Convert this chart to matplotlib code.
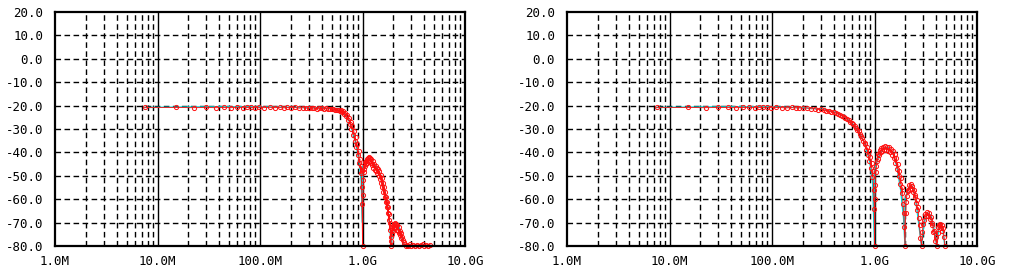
import matplotlib
matplotlib.use("Agg")
import matplotlib.pyplot as plt

# ---------------- data (frequency in MHz, level in dB) ----------------
left_f = [7.5, 15, 22.5, 30, 37.5, 45, 52.5, 60, 67.5, 75, 82.5, 90, 97.5,
          110, 125, 140, 155, 170, 185, 200, 220, 240, 260, 280, 300, 320, 340,
          360, 380, 400, 420, 440, 460, 480, 500, 520, 540, 560, 580, 600, 615,
          630, 645, 660, 675, 690, 705, 720, 735, 750, 765, 780, 795, 810, 825,
          840, 855, 870, 885, 900, 915, 930, 945, 960, 970, 980, 990, 1000,
          1010, 1020, 1030, 1040, 1050, 1060, 1070, 1085, 1100, 1115, 1130,
          1145, 1160, 1175, 1190, 1205, 1220, 1240, 1260, 1280, 1300, 1320,
          1340, 1360, 1380, 1400, 1420, 1440, 1460, 1480, 1500, 1520, 1540,
          1560, 1580, 1600, 1620, 1640, 1660, 1680, 1700, 1720, 1740, 1760,
          1780, 1800, 1820, 1840, 1860, 1880, 1895, 1910, 1930, 1950, 1970,
          1990, 2010, 2040, 2070, 2100, 2130, 2160, 2190, 2220, 2250, 2280,
          2310, 2340, 2370, 2400, 2440, 2480, 2520, 2560, 2640, 2720, 2800,
          2900, 3000, 3100, 3250, 3400, 3550, 3700, 3850, 4000, 4200, 4400,
          4600]
left_db = [-20.8, -20.8, -20.9, -20.8, -20.9, -20.8, -20.9, -20.8, -20.9, -20.8,
           -20.8, -20.9, -20.8, -20.9, -20.7, -20.9, -20.8, -21.0, -20.8, -20.9,
           -20.8, -21.1, -20.9, -21.0, -21.2, -20.9, -21.1, -21.3, -21.0, -21.2,
           -21.4, -21.1, -21.5, -21.3, -21.6, -21.4, -21.8, -22.0, -21.7, -22.3,
           -21.9, -22.8, -22.4, -23.6, -23.0, -24.6, -24.0, -26.0, -25.2, -27.8,
           -26.8, -30.0, -28.8, -32.4, -31.0, -35.0, -33.6, -37.8, -36.2, -41.0,
           -39.4, -44.5, -42.8, -49.0, -46.0, -55.0, -62.0, -80.0, -58.0, -52.0,
           -47.0, -48.5, -44.0, -46.0, -43.5, -45.0, -42.8, -44.5, -42.3, -44.0,
           -42.0, -43.8, -42.4, -44.5, -43.0, -45.5, -43.8, -46.5, -44.8, -47.5,
           -45.8, -48.0, -46.5, -49.0, -47.0, -50.0, -48.0, -51.5, -49.5, -53.0,
           -51.0, -55.0, -53.0, -57.0, -55.0, -59.0, -57.0, -61.0, -59.0, -63.5,
           -61.0, -66.0, -63.5, -69.0, -66.5, -73.0, -70.0, -78.0, -80.0, -76.0,
           -73.0, -75.0, -71.5, -73.5, -70.5, -72.5, -70.0, -72.0, -70.8, -73.0,
           -71.0, -73.5, -72.0, -74.5, -73.5, -75.5, -74.5, -76.5, -76.0, -77.5,
           -78.5, -79.0, -80.0, -79.5, -80.0, -79.3, -80.0, -79.5, -79.8, -79.4,
           -80.0, -79.6, -79.2, -79.8, -79.5, -79.8, -79.6]

left_ref_f = [7.5, 20, 50, 100, 200, 400, 550, 650, 750, 850, 920, 970, 1000,
              1000, 1030, 1100, 1200, 1300, 1450, 1600, 1750, 1850, 1900, 1950,
              2050, 2200, 2350, 2500, 2600, 4600]
left_ref_db = [-20.8, -20.6, -20.5, -20.5, -20.7, -21.0, -21.5, -23.0, -27.0,
               -35.0, -43.0, -52.0, -70.0, -46.0, -48.0, -44.0, -43.0, -45.0,
               -48.0, -54.0, -62.0, -72.0, -80.0, -75.0, -70.5, -70.0, -74.0,
               -79.0, -80.0, -80.0]

right_f = [7.5, 15, 22.5, 30, 37.5, 45, 52.5, 60, 67.5, 75, 82.5, 90, 97.5,
           110, 125, 140, 155, 170, 185, 200, 220, 240, 260, 280, 300, 320, 340,
           360, 380, 400, 420, 440, 460, 480, 500, 520, 540, 560, 580, 600, 620,
           640, 660, 680, 700, 720, 740, 760, 780, 800, 815, 830, 845, 860, 875,
           890, 905, 920, 935, 950, 965, 980, 995, 1000, 1010, 1020, 1030, 1045,
           1060, 1075, 1090, 1110, 1130, 1150, 1170, 1190, 1210, 1240, 1270,
           1300, 1330, 1360, 1390, 1420, 1450, 1480, 1510, 1540, 1570, 1600,
           1630, 1660, 1690, 1720, 1750, 1780, 1810, 1840, 1870, 1900, 1930,
           1955, 1985, 2010, 2040, 2070, 2100, 2140, 2180, 2220, 2260, 2300,
           2340, 2380, 2420, 2460, 2500, 2540, 2580, 2620, 2660, 2700, 2750,
           2800, 2880, 2930, 2990, 3050, 3120, 3190, 3260, 3330, 3400, 3470,
           3540, 3610, 3680, 3750, 3820, 3890, 3960, 4050, 4120, 4200, 4280,
           4360, 4440, 4520, 4600, 4680, 4760, 4850]
right_db = [-20.8, -20.8, -20.9, -20.8, -20.8, -20.9, -20.8, -20.8, -20.9, -20.8,
            -20.8, -20.8, -20.9, -20.8, -20.9, -21.0, -20.8, -21.0, -20.9, -21.2,
            -21.0, -21.4, -21.3, -21.7, -21.6, -22.0, -22.1, -22.3, -22.6, -22.8,
            -23.2, -23.5, -24.0, -24.3, -24.8, -25.2, -25.8, -26.3, -26.8, -27.5,
            -28.0, -28.8, -29.5, -30.3, -31.0, -32.0, -33.0, -34.0, -35.2, -36.5,
            -36.0, -38.8, -37.8, -41.0, -39.5, -43.5, -42.0, -46.5, -44.5, -50.5,
            -48.0, -56.0, -64.0, -80.0, -60.0, -54.0, -48.5, -46.0, -43.5, -42.8,
            -40.5, -41.0, -39.0, -40.0, -38.2, -39.4, -37.6, -39.0, -37.2, -38.8,
            -37.5, -39.2, -37.8, -40.0, -38.5, -41.0, -39.5, -42.5, -40.8, -44.5,
            -42.5, -47.0, -45.0, -50.0, -48.0, -53.5, -51.0, -57.5, -55.0,
            -62.0, -66.0, -72.0, -80.0, -66.0, -61.0, -58.5, -56.0, -56.5, -54.0,
            -55.5, -53.5, -55.5, -54.5, -57.0, -56.0, -59.0, -58.0, -61.5, -60.5,
            -64.5, -63.5, -68.0, -71.0, -76.5, -80.0, -74.0, -70.5, -69.0, -66.5,
            -67.0, -65.5, -67.0, -66.0, -68.5, -67.5, -71.0, -70.0, -74.0, -73.5,
            -78.0, -76.0, -80.0, -74.5, -72.0, -71.0, -70.5, -72.5, -71.0, -73.5,
            -72.5, -76.0, -80.0]

right_ref_f = [7.5, 20, 50, 100, 200, 300, 400, 500, 600, 700, 800, 900, 960,
               1000, 1000, 1060, 1200, 1350, 1500, 1650, 1800, 1920, 1985, 1985,
               2050, 2200, 2350, 2500, 2650, 2800, 2880, 3050, 3300, 3550, 3800,
               4000, 4050, 4250, 4450, 4650, 4850]
right_ref_db = [-20.8, -20.6, -20.5, -20.5, -20.9, -21.5, -22.6, -24.6, -27.3,
                -30.8, -36.0, -44.0, -53.0, -80.0, -48.0, -43.5, -38.3, -37.8,
                -39.8, -46.0, -56.0, -68.0, -80.0, -60.0, -58.0, -54.5, -54.5,
                -59.5, -67.5, -76.0, -80.0, -70.0, -65.8, -67.0, -72.5, -78.0,
                -80.0, -72.0, -70.8, -73.0, -80.0]

x_tick_vals = [1, 10, 100, 1000, 10000]
x_tick_labels = ["1.0M", "10.0M", "100.0M", "1.0G", "10.0G"]
y_tick_vals = [20, 10, 0, -10, -20, -30, -40, -50, -60, -70, -80]
y_tick_labels = ["20.0", "10.0", "0.0", "-10.0", "-20.0", "-30.0", "-40.0",
                 "-50.0", "-60.0", "-70.0", "-80.0"]

# ---------------- figure ----------------
W, H = 1011, 276
fig = plt.figure(figsize=(W / 100, H / 100), dpi=100)
fig.patch.set_facecolor("white")

RED = "#ff1010"
CYAN = "#00d8d8"
FONT = dict(family="DejaVu Sans Mono", size=9, color="black")


def make_axes(left_px, f, db, rf, rdb):
    ax = fig.add_axes([left_px / W, (H - 246) / H, 410 / W, 234 / H])
    ax.set_xscale("log")
    ax.set_xlim(1, 10000)
    ax.set_ylim(-80, 20)

    # grid
    for dec in [1, 10, 100, 1000]:
        for m in range(2, 10):
            ax.axvline(dec * m, color="black", lw=1.0, ls=(0, (4, 2.5)), zorder=1)
    for dec in [10, 100, 1000]:
        ax.axvline(dec, color="black", lw=1.0, zorder=1)
    for yv in y_tick_vals[1:-1]:
        ax.axhline(yv, color="black", lw=1.0, ls=(0, (4, 2.5)), zorder=1)

    # traces
    ax.plot(rf, rdb, color=CYAN, lw=1.0, zorder=2)
    ax.plot(f, db, color=RED, lw=0.6, marker="o", ms=3.0, mfc="none",
            mec=RED, mew=0.7, zorder=3, clip_on=False)

    ax.set_xticks(x_tick_vals)
    ax.set_xticklabels(x_tick_labels, fontdict=FONT)
    ax.xaxis.set_minor_locator(matplotlib.ticker.NullLocator())
    ax.set_yticks(y_tick_vals)
    ax.set_yticklabels(y_tick_labels, fontdict=FONT)
    ax.tick_params(axis="both", which="both", length=0)
    ax.tick_params(axis="y", pad=8.5)
    ax.tick_params(axis="x", pad=6.5)
    for s in ax.spines.values():
        s.set_linewidth(1.6)
        s.set_color("black")
        s.set_zorder(4)
    return ax


make_axes(55, left_f, left_db, left_ref_f, left_ref_db)
make_axes(567, right_f, right_db, right_ref_f, right_ref_db)

fig.savefig("out.png", dpi=100)
